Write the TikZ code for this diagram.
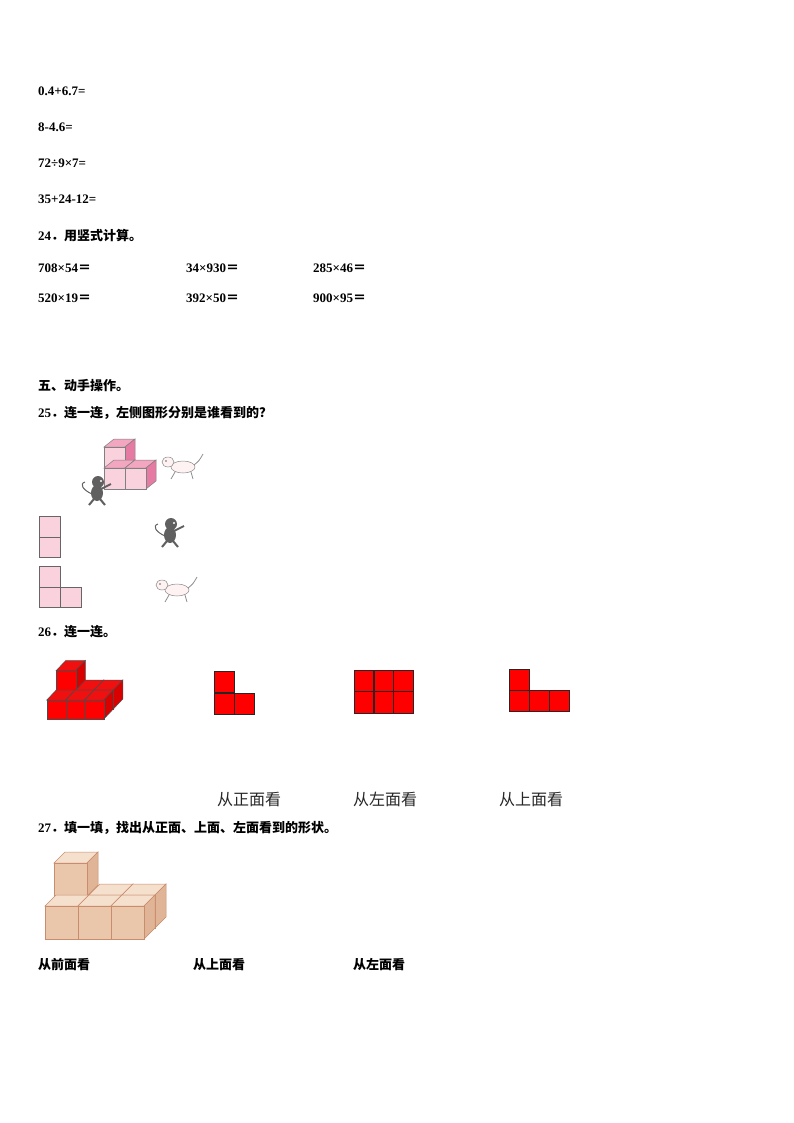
\documentclass[tikz,border=0pt]{standalone}
\usepackage{fontspec}
\setmainfont{Liberation Serif}
\newfontfamily\cjk{Noto Sans CJK SC}
\begin{document}
\begin{tikzpicture}[x=1pt,y=-1pt,
  txt/.style={anchor=west,inner sep=0pt,font=\fontsize{13}{15}\selectfont\bfseries},
  big/.style={anchor=west,inner sep=0pt,font=\fontsize{16}{18}\selectfont\cjk,text=black!85},
  pk/.style={draw=black!60,fill=pink!45,line width=0.5pt},
  rd/.style={draw=black!85,fill=red,line width=0.8pt}]
\useasboundingbox (0,0) rectangle (794,1123);
\newcommand{\mycube}[9]{%
  \draw[draw=#9,fill=#7,line width=0.5pt] (#1,#2) -- ++(#4,#5) -- ++(#3,0) -- ++(-#4,-#5) -- cycle;
  \draw[draw=#9,fill=#8,line width=0.5pt] (#1+#3,#2) -- ++(#4,#5) -- ++(0,#3) -- ++(-#4,-#5) -- cycle;
  \draw[draw=#9,fill=#6,line width=0.5pt] (#1,#2) rectangle ++(#3,#3);}
\newcommand{\eq}{{\cjk ＝}}
\newcommand{\dt}{{\cjk ．}}
\definecolor{pf}{HTML}{FAD2DE}\definecolor{pt}{HTML}{F3A6C0}\definecolor{ps}{HTML}{E57BA2}
\definecolor{tf}{HTML}{EAC7AB}\definecolor{tt}{HTML}{F5E0CE}\definecolor{ts}{HTML}{E0B597}\definecolor{te}{HTML}{C98C6C}
\definecolor{rt}{HTML}{F01010}
% texts
\node[txt] (t1) at (38,91) {0.4+6.7=};
\node[txt] (t2) at (38,127) {8-4.6=};
\node[txt] (t3) at (38,163) {72÷9×7=};
\node[txt] (t4) at (38,199) {35+24-12=};
\node[txt] (t5) at (38,236) {24\dt{\cjk 用竖式计算。}};
\node[txt] (a1) at (38,268) {708×54\eq};
\node[txt] (a2) at (186,268) {34×930\eq};
\node[txt] (a3) at (313,268) {285×46\eq};
\node[txt] (b1) at (38,298) {520×19\eq};
\node[txt] (b2) at (186,298) {392×50\eq};
\node[txt] (b3) at (313,298) {900×95\eq};
\node[txt] (h5) at (38,386) {\cjk 五、动手操作。};
\node[txt] (q25) at (38,413) {25\dt{\cjk 连一连，左侧图形分别是谁看到的？}};
\node[txt] (q26) at (38,632) {26\dt{\cjk 连一连。}};
\node[txt] (q27) at (38,828) {27\dt{\cjk 填一填，找出从正面、上面、左面看到的形状。}};
\node[txt] (c1) at (38,965) {\cjk 从前面看};
\node[txt] (c2) at (193,965) {\cjk 从上面看};
\node[txt] (c3) at (353,965) {\cjk 从左面看};
\node[big] (l1) at (217,799) {从正面看};
\node[big] (l2) at (353,799) {从左面看};
\node[big] (l3) at (499,799) {从上面看};
% 25 pink figure
\mycube{104}{447}{21}{10}{-8}{pf}{pt}{ps}{black!50}
\mycube{104}{468}{21}{10}{-8}{pf}{pt}{ps}{black!50}
\mycube{125}{468}{21}{10}{-8}{pf}{pt}{ps}{black!50}
\draw[pk,fill=pf] (39,516) rectangle (60,537) (39,537) rectangle (60,557);
\draw[pk,fill=pf] (39,566) rectangle (60,587) (39,587) rectangle (60,607) (60,587) rectangle (81,607);
% monkeys
\foreach \mx/\my in {97/490,170/532}{
  \fill[gray!75!black] (\mx+1,\my-8) circle (6);
  \fill[gray!75!black] (\mx,\my+3) ellipse (6 and 8);
  \draw[gray!75!black,line width=2pt] (\mx+4,\my-1) -- (\mx+14,\my-6);
  \draw[gray!75!black,line width=2pt] (\mx-3,\my+9) -- (\mx-8,\my+15) (\mx+3,\my+9) -- (\mx+8,\my+15);
  \draw[gray!75!black,line width=1pt] (\mx-5,\my+4) .. controls (\mx-14,\my) and (\mx-18,\my-6) .. (\mx-12,\my-8);
  \fill[white] (\mx+4,\my-9) circle (1.2);}
% dogs
\foreach \dx/\dy in {183/467,177/590}{
  \draw[black!45,fill=pink!20,line width=0.5pt] (\dx,\dy) ellipse (12 and 6);
  \draw[black!45,fill=pink!20,line width=0.5pt] (\dx-15,\dy-5) ellipse (6 and 5);
  \draw[black!45,line width=0.8pt] (\dx-8,\dy+5) -- (\dx-12,\dy+12) (\dx+8,\dy+5) -- (\dx+10,\dy+12);
  \draw[black!45,line width=0.8pt] (\dx+11,\dy-2) .. controls (\dx+16,\dy-6) .. (\dx+20,\dy-13);
  \fill[black!60] (\dx-17,\dy-6) circle (0.9);}
% 26 red figures
\foreach \i in {0,1,2}{\mycube{56.3+19*\i}{690}{19}{9.5}{-10}{red}{rt}{red!85!black}{black!70}}
\mycube{56.3}{670.5}{19.5}{9.5}{-10}{red}{rt}{red!85!black}{black!70}
\foreach \i in {0,1,2}{\mycube{46.8+19*\i}{700}{19}{9.5}{-10}{red}{rt}{red!85!black}{black!70}}
\foreach \a/\b in {214/671,214/693,234/693}{\draw[rd] (\a,\b) rectangle ++(20,21);}
\foreach \a/\b in {354/670,374/670,393.5/670,354/691.5,374/691.5,393.5/691.5}{\draw[rd] (\a,\b) rectangle ++(19.5,21.5);}
\foreach \a/\b in {509/669,509/690.5,529/690.5,549/690.5}{\draw[rd] (\a,\b) rectangle ++(20,21.3);}
% 27 tan cubes
\mycube{89}{895}{33}{11}{-11}{tf}{tt}{ts}{te}
\mycube{122}{895}{33}{11}{-11}{tf}{tt}{ts}{te}
\mycube{54}{863}{33}{11}{-11}{tf}{tt}{ts}{te}
\mycube{45}{906}{33}{11}{-11}{tf}{tt}{ts}{te}
\mycube{78}{906}{33}{11}{-11}{tf}{tt}{ts}{te}
\mycube{111}{906}{33}{11}{-11}{tf}{tt}{ts}{te}
\end{tikzpicture}
\end{document}
